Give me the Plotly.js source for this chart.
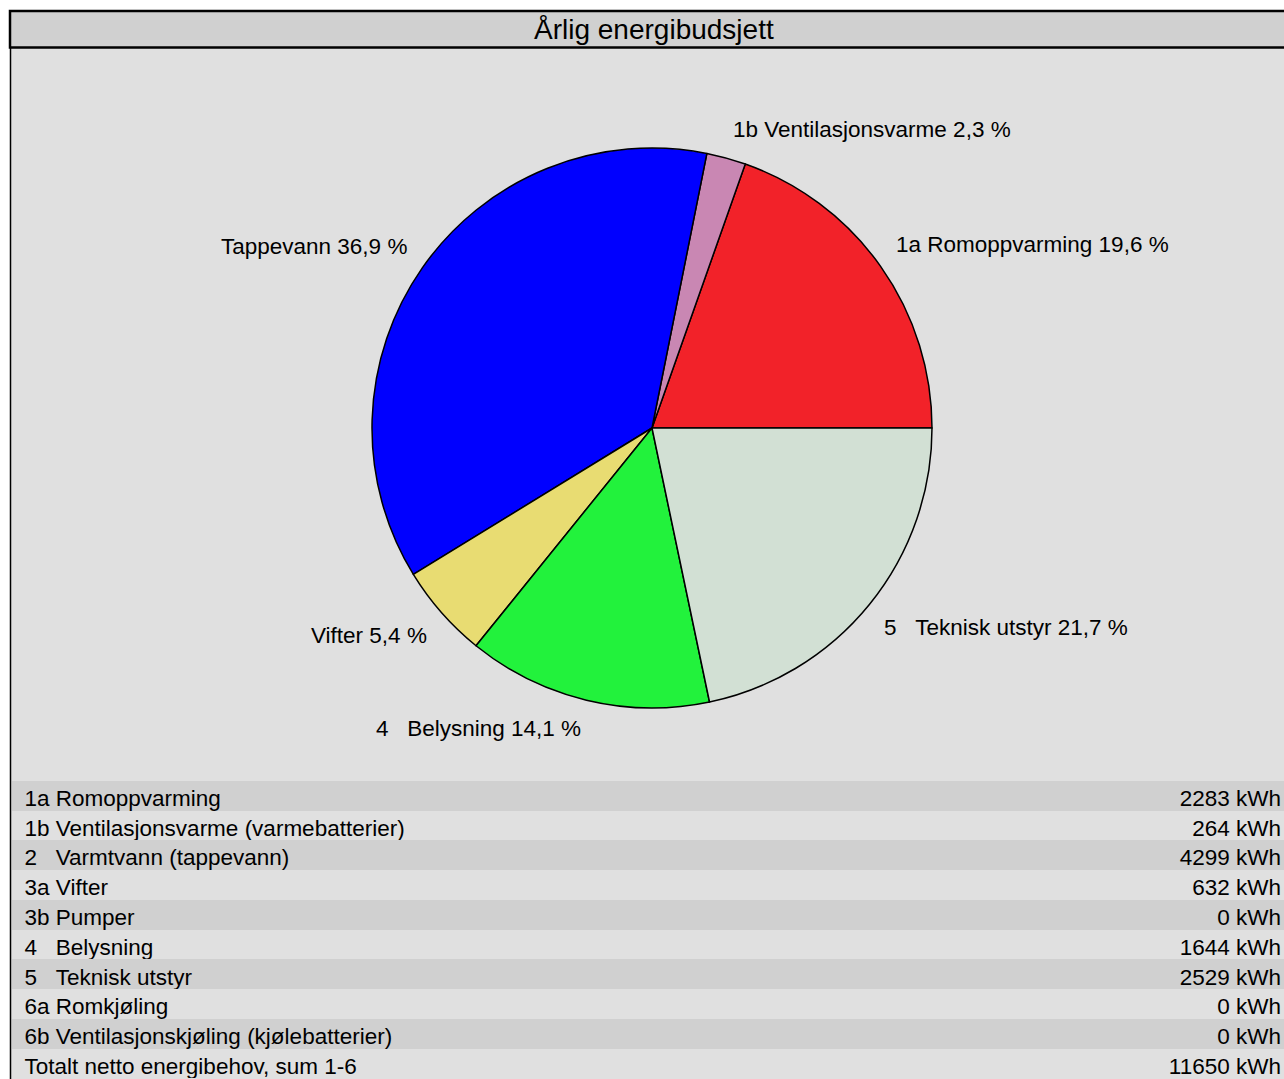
<!DOCTYPE html>
<html><head><meta charset="utf-8">
<script src="https://cdn.plot.ly/plotly-3.0.1.min.js"></script>
<style>html,body{margin:0;padding:0;background:#fff;overflow:hidden}</style>
</head><body><div id="chart" style="width:1289px;height:1079px"></div>
<script>
const chartTitle = "Årlig energibudsjett";
const NB = "\u00a0";
const pieLabels = ["1a Romoppvarming", "1b Ventilasjonsvarme", "Tappevann", "Vifter", "4" + NB+NB+NB + "Belysning", "5" + NB+NB+NB + "Teknisk utstyr"];
const pieValues = [2283, 264, 4299, 632, 1644, 2529];
const pieColors = ["#f22229", "#c987b3", "#0000ff", "#e8dc72", "#22f23c", "#d2e0d4"];
const tableLabels = ["1a Romoppvarming", "1b Ventilasjonsvarme (varmebatterier)", "2" + NB+NB+NB + "Varmtvann (tappevann)", "3a Vifter", "3b Pumper", "4" + NB+NB+NB + "Belysning", "5" + NB+NB+NB + "Teknisk utstyr", "6a Romkjøling", "6b Ventilasjonskjøling (kjølebatterier)", "Totalt netto energibehov, sum 1-6"];
const tableValues = [2283, 264, 4299, 632, 0, 1644, 2529, 0, 0, 11650];
const unit = "kWh";

const W = 1289, H = 1079;
const FONT = "Liberation Sans, Arial, sans-serif";
const FS = 22.5;
const X = px => px / W, Y = py => 1 - py / H;

const cx = 652, cy = 428, R = 280;
const total = pieValues.reduce((a, b) => a + b, 0);
const annotations = [];
let cum = 0;
pieValues.forEach((v, i) => {
  const mid = (cum + v / 2) / total * 2 * Math.PI; cum += v;
  const c = Math.cos(mid), s = Math.sin(mid);
  const px = cx + 1.06 * R * c, py = cy - 1.06 * R * s - 12 * Math.sign(s);
  const pct = (v / total * 100).toFixed(1).replace(".", ",");
  annotations.push({xref: "paper", yref: "paper", x: X(px), y: Y(py), showarrow: false,
    text: pieLabels[i] + " " + pct + " %", xanchor: c >= 0 ? "left" : "right", yanchor: "middle",
    font: {size: FS, color: "#000", family: FONT}});
});
annotations.push({xref: "paper", yref: "paper", x: X(653.5), y: Y(29.5), showarrow: false, text: chartTitle,
  xanchor: "center", yanchor: "middle", font: {size: 28, color: "#000", family: FONT}});

const rowH = 29.8;
const pad = "\u2009";
const fmt = v => v + " " + unit;
const rowColors = tableLabels.slice(1).map((_, i) => i % 2 === 0 ? "#e0e0e0" : "#d0d0d0");

// Plotly draws counterclockwise slices ending at the rotation point; start the first slice at 3 o'clock
const rotation = 90 - pieValues[0] / total * 360;

const data = [
  {type: "pie", values: pieValues, labels: pieLabels, sort: false, direction: "counterclockwise", rotation: rotation,
   textinfo: "none", hoverinfo: "label+percent", showlegend: false,
   marker: {colors: pieColors, line: {color: "#000", width: 1.5}},
   domain: {x: [X(cx - R), X(cx + R)], y: [1 - (cy + R) / H, 1 - (cy - R) / H]}},
  {type: "table", domain: {x: [X(12), 1], y: [0, Y(781)]}, columnwidth: [4, 1],
   header: {values: [[pad + tableLabels[0]], [fmt(tableValues[0])]], align: ["left", "right"], height: rowH,
     fill: {color: "#d0d0d0"}, line: {width: 1, color: "#d0d0d0"}, font: {size: FS, color: "#000", family: FONT}},
   cells: {values: [tableLabels.slice(1).map(t => pad + t), tableValues.slice(1).map(fmt)], align: ["left", "right"], height: rowH,
     fill: {color: [rowColors, rowColors]}, line: {width: 1, color: [rowColors, rowColors]}, font: {size: FS, color: "#000", family: FONT}}}
];

const layout = {
  width: W, height: H, margin: {l: 0, r: 0, t: 0, b: 0}, paper_bgcolor: "#ffffff",
  font: {family: FONT},
  shapes: [
    {type: "rect", xref: "paper", yref: "paper", layer: "below", x0: X(10), x1: 1.01, y0: -0.01, y1: Y(47), fillcolor: "#e0e0e0", line: {width: 0}},
    {type: "rect", xref: "paper", yref: "paper", layer: "below", x0: X(10), x1: 1.01, y0: Y(47.5), y1: Y(11), fillcolor: "#d0d0d0", line: {color: "#000", width: 2.5}},
    {type: "line", xref: "paper", yref: "paper", x0: X(10.5), x1: X(10.5), y0: -0.01, y1: Y(47), line: {color: "#000", width: 1.5}}
  ],
  annotations: annotations
};
Plotly.newPlot("chart", data, layout, {displayModeBar: false, staticPlot: true});
</script></body></html>
